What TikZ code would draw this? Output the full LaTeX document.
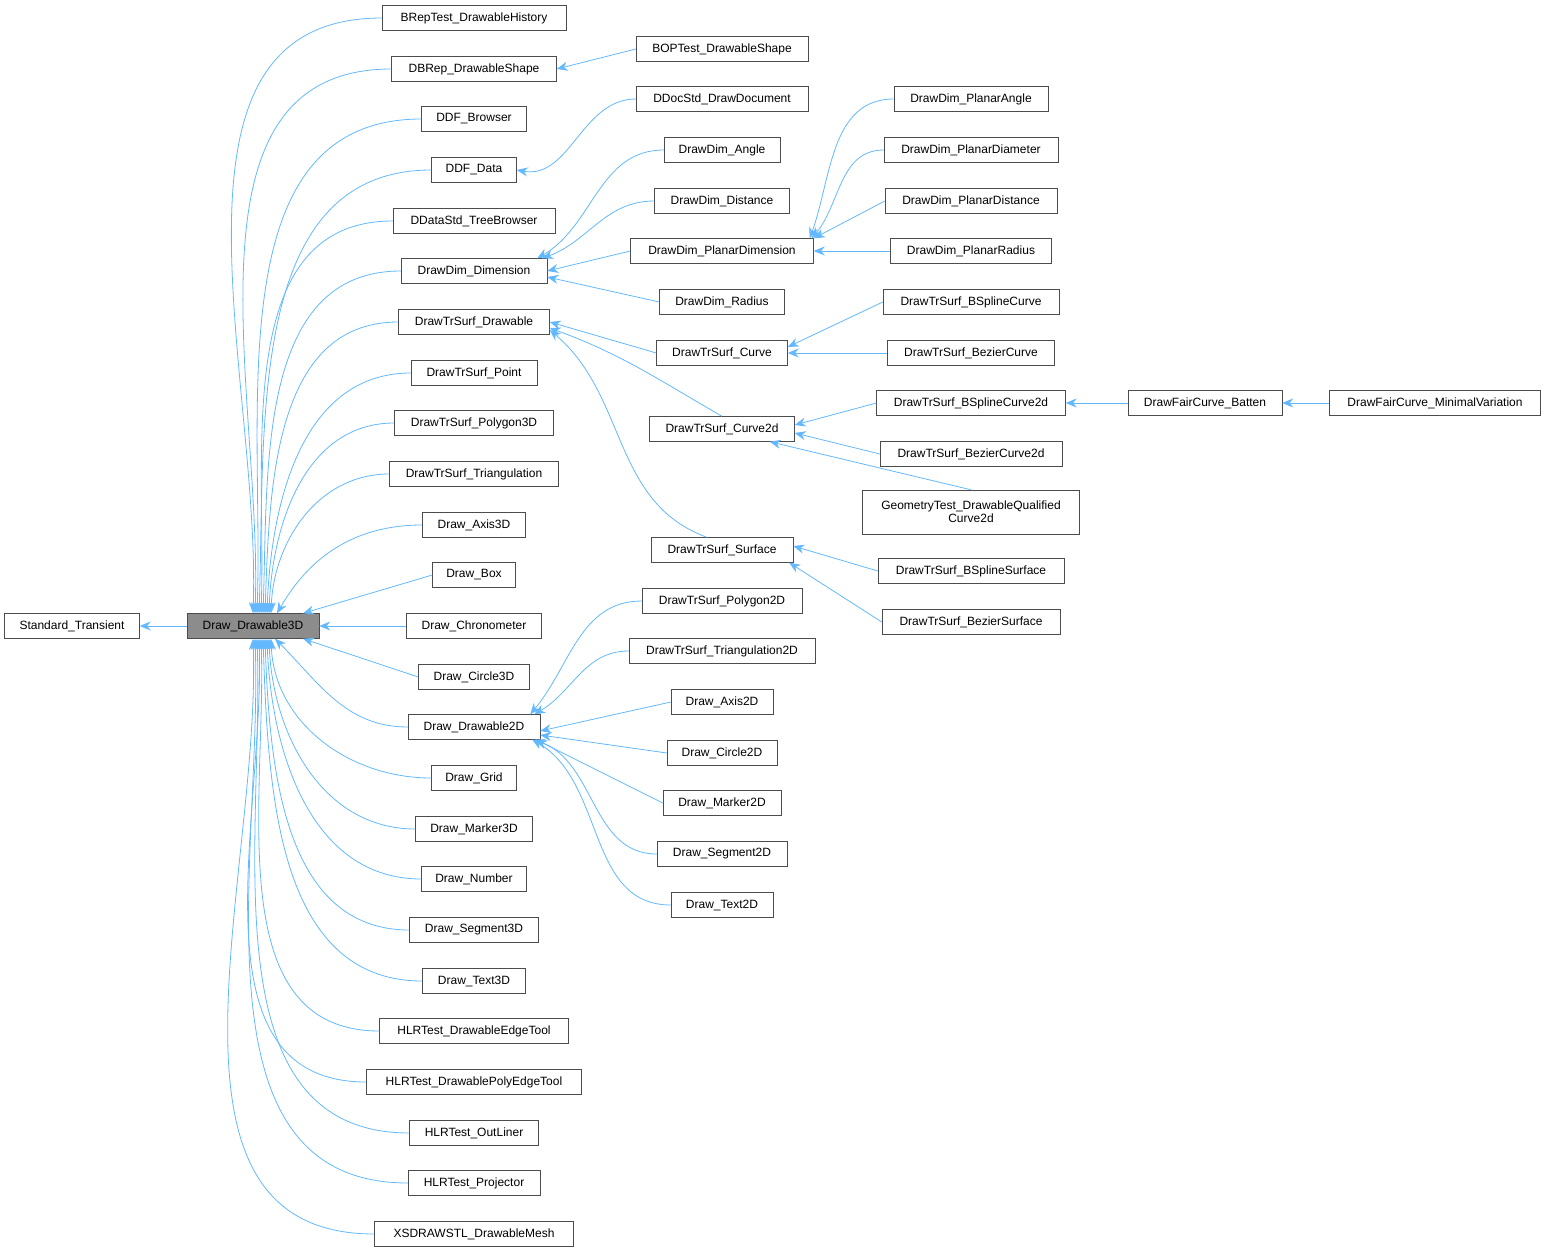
\documentclass[tikz,border=0pt]{standalone}
\usepackage{fontspec}
\setmainfont{Liberation Sans}
\usetikzlibrary{arrows.meta}
\definecolor{edgec}{HTML}{63B8FF}
\tikzset{
 cls/.style={draw=black!70, fill=white, minimum height=25pt, inner sep=1pt, font=\fontsize{12}{13}\selectfont, align=center},
 arr/.style={draw=edgec, line width=0.8pt, {Stealth[length=11pt,width=9pt,fill=edgec]}-},
}
\newcommand{\nd}[5]{\node[cls, minimum width=#4pt] (#1) at (#2,#3) {#5};}
\begin{document}
\begin{tikzpicture}[x=1pt,y=-1pt]
\useasboundingbox (0,0) rectangle (1547,1253);
\nd{ST}{72}{626}{135}{Standard\_Transient}
\node[cls, minimum width=132pt, fill=black!45] (D3) at (253,626) {Draw\_Drawable3D};
% column 1
\nd{a1}{474}{18}{184}{BRepTest\_DrawableHistory}
\nd{a2}{474}{69}{165}{DBRep\_DrawableShape}
\nd{a3}{474}{119}{105}{DDF\_Browser}
\nd{a4}{474}{170}{85}{DDF\_Data}
\nd{a5}{474}{221}{162}{DDataStd\_TreeBrowser}
\nd{a6}{474}{271}{146}{DrawDim\_Dimension}
\nd{a7}{474}{322}{151}{DrawTrSurf\_Drawable}
\nd{a8}{474}{373}{126}{DrawTrSurf\_Point}
\nd{a9}{474}{423}{159}{DrawTrSurf\_Polygon3D}
\nd{a10}{474}{474}{169}{DrawTrSurf\_Triangulation}
\nd{a11}{474}{525}{103}{Draw\_Axis3D}
\nd{a12}{474}{575}{83}{Draw\_Box}
\nd{a13}{474}{626}{135}{Draw\_Chronometer}
\nd{a14}{474}{677}{111}{Draw\_Circle3D}
\nd{a15}{474}{727}{132}{Draw\_Drawable2D}
\nd{a16}{474}{778}{85}{Draw\_Grid}
\nd{a17}{474}{829}{117}{Draw\_Marker3D}
\nd{a18}{474}{879}{105}{Draw\_Number}
\nd{a19}{474}{930}{129}{Draw\_Segment3D}
\nd{a20}{474}{981}{103}{Draw\_Text3D}
\nd{a21}{474}{1031}{189}{HLRTest\_DrawableEdgeTool}
\nd{a22}{474}{1082}{215}{HLRTest\_DrawablePolyEdgeTool}
\nd{a23}{474}{1133}{129}{HLRTest\_OutLiner}
\nd{a24}{474}{1183}{132}{HLRTest\_Projector}
\nd{a25}{474}{1234}{199}{XSDRAWSTL\_DrawableMesh}
% column 2
\nd{b1}{722}{49}{172}{BOPTest\_DrawableShape}
\nd{b2}{722}{99}{172}{DDocStd\_DrawDocument}
\nd{b3}{722}{150}{116}{DrawDim\_Angle}
\nd{b4}{722}{201}{135}{DrawDim\_Distance}
\nd{b5}{722}{251}{183}{DrawDim\_PlanarDimension}
\nd{b6}{722}{302}{125}{DrawDim\_Radius}
\nd{b7}{722}{353}{131}{DrawTrSurf\_Curve}
\nd{b8}{722}{429}{145}{DrawTrSurf\_Curve2d}
\nd{b9}{722}{550}{142}{DrawTrSurf\_Surface}
\nd{b10}{722}{601}{160}{DrawTrSurf\_Polygon2D}
\nd{b11}{722}{651}{186}{DrawTrSurf\_Triangulation2D}
\nd{b12}{722}{702}{102}{Draw\_Axis2D}
\nd{b13}{722}{753}{110}{Draw\_Circle2D}
\nd{b14}{722}{803}{118}{Draw\_Marker2D}
\nd{b15}{722}{854}{130}{Draw\_Segment2D}
\nd{b16}{722}{905}{102}{Draw\_Text2D}
% column 3
\nd{c1}{971}{99}{154}{DrawDim\_PlanarAngle}
\nd{c2}{971}{150}{174}{DrawDim\_PlanarDiameter}
\nd{c3}{971}{201}{172}{DrawDim\_PlanarDistance}
\nd{c4}{971}{251}{161}{DrawDim\_PlanarRadius}
\nd{c5}{971}{302}{176}{DrawTrSurf\_BSplineCurve}
\nd{c6}{971}{353}{167}{DrawTrSurf\_BezierCurve}
\nd{c7}{971}{403}{189}{DrawTrSurf\_BSplineCurve2d}
\nd{c8}{971}{454}{182}{DrawTrSurf\_BezierCurve2d}
\node[cls, minimum width=217pt, minimum height=44pt] (c9) at (971,512) {GeometryTest\_DrawableQualified\\Curve2d};
\nd{c10}{971}{571}{186}{DrawTrSurf\_BSplineSurface}
\nd{c11}{971}{622}{178}{DrawTrSurf\_BezierSurface}
\nd{d1}{1205}{403}{154}{DrawFairCurve\_Batten}
\nd{e1}{1435}{403}{211}{DrawFairCurve\_MinimalVariation}
% edges
\draw[arr] (ST.east) -- (D3.west);
\foreach \c/\dx in {a1/0,a2/2,a3/4,a4/6,a5/8,a6/10,a7/12,a8/14,a9/16,a10/18}
  \draw[arr] ([xshift=\dx pt]D3.north) to[out=88,in=180] (\c.west);
\draw[arr] ([xshift=24pt]D3.north) to[out=60,in=180] (a11.west);
\draw[arr] ([xshift=50pt]D3.north) -- (a12.west);
\draw[arr] (D3.east) -- (a13.west);
\draw[arr] ([xshift=50pt]D3.south) -- (a14.west);
\draw[arr] ([xshift=22pt]D3.south) to[out=-45,in=180] (a15.west);
\foreach \c/\dx in {a16/18,a17/16,a18/14,a19/12,a20/10,a21/8,a22/6,a23/4,a24/2,a25/0}
  \draw[arr] ([xshift=\dx pt]D3.south) to[out=-88,in=180] (\c.west);
\draw[arr] (a2.east) -- (b1.west);
\draw[arr] (a4.east) to[out=-10,in=180] (b2.west);
\draw[arr] ([xshift=-10pt]a6.north east) to[out=30,in=180] (b3.west);
\draw[arr] ([xshift=-5pt]a6.north east) to[out=20,in=180] (b4.west);
\draw[arr] (a6.east) -- (b5.west);
\draw[arr] ([yshift=-6pt]a6.east) -- (b6.west);
\draw[arr] (a7.east) -- (b7.west);
\draw[arr] ([yshift=-6pt]a7.east) to[out=-20,in=150] (b8.north);
\draw[arr] ([yshift=-8pt]a7.east) to[out=-40,in=160] ([xshift=-15pt]b9.north);
\draw[arr] ([xshift=-4pt]b5.north east) to[out=70,in=180] (c1.west);
\draw[arr] ([xshift=-2pt]b5.north east) to[out=50,in=180] (c2.west);
\draw[arr] (b5.north east) -- (c3.west);
\draw[arr] (b5.east) -- (c4.west);
\draw[arr] ([yshift=6pt]b7.east) -- (c5.west);
\draw[arr] (b7.east) -- (c6.west);
\draw[arr] ([yshift=4pt]b8.east) -- (c7.west);
\draw[arr] ([yshift=-4pt]b8.east) -- (c8.west);
\draw[arr] ([xshift=-25pt]b8.south east) -- (c9.north);
\draw[arr] (c7.east) -- (d1.west);
\draw[arr] (d1.east) -- (e1.west);
\draw[arr] ([yshift=4pt]b9.east) -- (c10.west);
\draw[arr] ([xshift=-4pt]b9.south east) -- (c11.west);
\draw[arr] ([xshift=-10pt]a15.north east) to[out=50,in=180] (b10.west);
\draw[arr] ([xshift=-6pt]a15.north east) to[out=30,in=180] (b11.west);
\draw[arr] ([yshift=-4pt]a15.east) -- (b12.west);
\draw[arr] ([yshift=-8pt]a15.east) -- (b13.west);
\draw[arr] ([xshift=-4pt]a15.south east) -- (b14.west);
\draw[arr] ([xshift=-6pt]a15.south east) to[out=-20,in=180] (b15.west);
\draw[arr] ([xshift=-8pt]a15.south east) to[out=-30,in=180] (b16.west);
\end{tikzpicture}
\end{document}
